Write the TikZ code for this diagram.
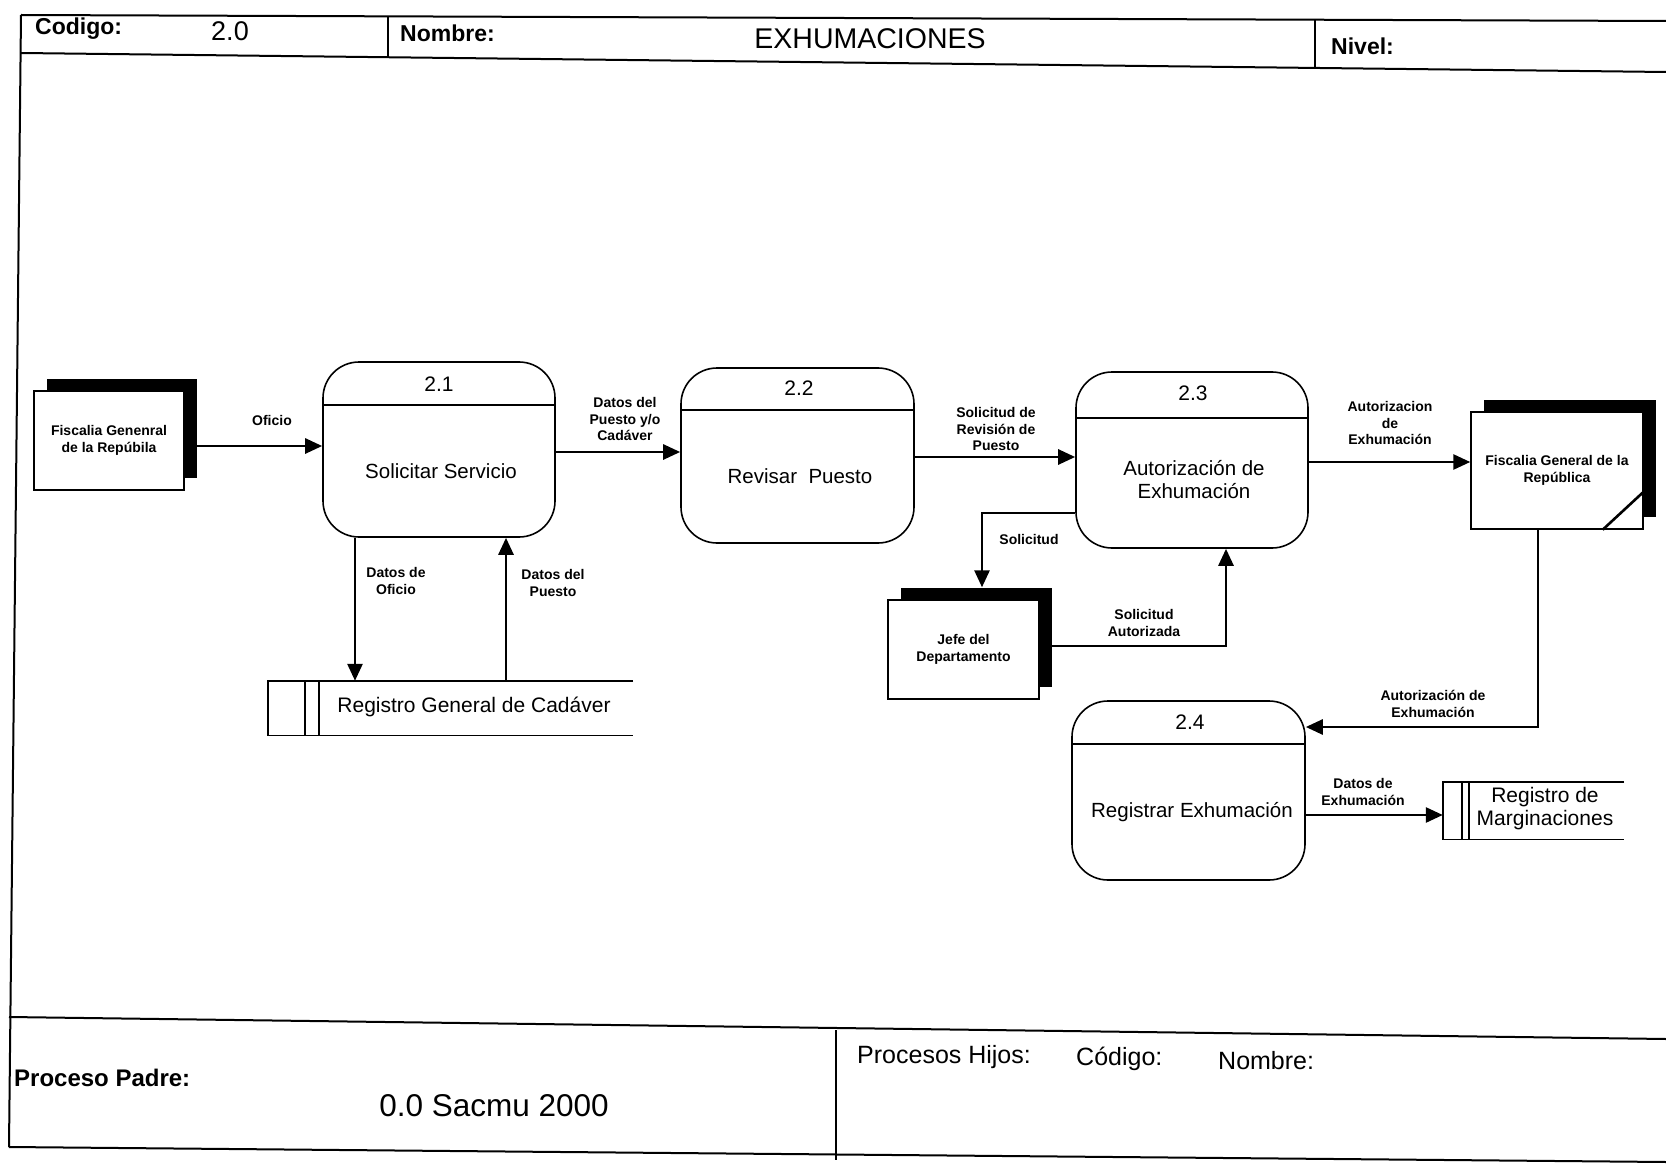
\documentclass[tikz,border=0pt]{standalone}
\usepackage{fontspec}
\setmainfont{Liberation Sans}
\usetikzlibrary{arrows.meta,shadows,calc}
\begin{document}
\begin{tikzpicture}[x=1pt,y=-1pt,
  frameline/.style={line width=2pt},
  proc/.style={draw, line width=1.6pt, rounded corners=36pt, inner sep=0pt},
  entity/.style={draw, fill=white, line width=1.4pt, inner sep=0pt, align=center,
    font=\bfseries\fontsize{14}{16.5}\selectfont,
    general shadow={fill=black, shadow xshift=13pt, shadow yshift=12pt}},
  flow/.style={line width=2.7pt, -{Triangle[length=17pt,width=15pt]}},
  lbl/.style={font=\bfseries\fontsize{14}{16.5}\selectfont, align=center, inner sep=0pt},
  ptxt/.style={font=\fontsize{20.5}{23}\selectfont, align=center, inner sep=0pt},
  pnum/.style={font=\fontsize{21}{24}\selectfont, inner sep=0pt},
  hbold/.style={font=\bfseries\fontsize{23}{26}\selectfont, anchor=west, inner sep=0pt},
  hreg/.style={font=\fontsize{25}{28}\selectfont, anchor=west, inner sep=0pt},
  storeline/.style={line width=1.4pt}]

\useasboundingbox[fill=white] (0,0) rectangle (1666,1169);

% ---- form frame ----
\draw[frameline] (21,15) -- (1666,21);
\draw[frameline] (21,15) -- (9,1147);
\draw[frameline] (21,53) -- (1666,72);
\draw[line width=1.2pt] (388,17) -- (388,56);
\draw[line width=1.2pt] (1315,20) -- (1315,67);
\draw[frameline] (9,1017) -- (1666,1039);
\draw[line width=1.2pt] (836,1030) -- (836,1160);
\draw[frameline] (9,1147) -- (1666,1162);

% ---- header ----
\node[hbold] (hcod) at (35,29) {Codigo:};
\node[font=\fontsize{27}{30}\selectfont, inner sep=0pt] (hcodv) at (230,31) {2.0};
\node[hbold] (hnom) at (400,33) {Nombre:};
\node[font=\fontsize{28.5}{32}\selectfont, inner sep=0pt] (hnomv) at (870,39) {EXHUMACIONES};
\node[hbold] (hniv) at (1331,46) {Nivel:};

% ---- footer ----
\node[hbold, font=\bfseries\fontsize{24}{27}\selectfont] (fpadre) at (14,1078) {Proceso Padre:};
\node[font=\fontsize{31.5}{36}\selectfont, inner sep=0pt] (fpadrev) at (494,1106) {0.0 Sacmu 2000};
\node[hreg] (fhijos) at (857,1057) {Procesos Hijos:};
\node[hreg] (fcod) at (1076,1059) {Código:};
\node[hreg] (fnom) at (1218,1061) {Nombre:};

% ---- processes ----
\node[proc, minimum width=232pt, minimum height=175pt] (p1) at (439,449.5) {};
\draw[line width=1.4pt] (p1.west |- 0,405) -- (p1.east |- 0,405);
\node[pnum] (p1n) at (439,384) {2.1};
\node[ptxt] (p1t) at (441,471) {Solicitar Servicio};

\node[proc, minimum width=233pt, minimum height=175pt] (p2) at (797.5,455.5) {};
\draw[line width=1.4pt] (p2.west |- 0,410) -- (p2.east |- 0,410);
\node[pnum] (p2n) at (799,388) {2.2};
\node[ptxt] (p2t) at (800,476) {Revisar\ \ Puesto};

\node[proc, minimum width=232pt, minimum height=176pt] (p3) at (1192,460) {};
\draw[line width=1.4pt] (p3.west |- 0,418) -- (p3.east |- 0,418);
\node[pnum] (p3n) at (1193,393) {2.3};
\node[ptxt] (p3t) at (1194,480) {Autorización de\\Exhumación};

\node[proc, minimum width=233pt, minimum height=179pt] (p4) at (1188.5,790.5) {};
\draw[line width=1.4pt] (p4.west |- 0,744) -- (p4.east |- 0,744);
\node[pnum] (p4n) at (1190,722) {2.4};
\node[ptxt] (p4t) at (1192,812) {Registrar Exhumación};

% ---- external entities ----
\node[entity, minimum width=150pt, minimum height=99pt] (e1) at (109,440.5)
  {Fiscalia Genenral\\de la Repúbila};
\node[entity, minimum width=172pt, minimum height=117pt] (e2) at (1557,470.5)
  {Fiscalia General de la\\República};
\draw[line width=2.6pt] ($(e2.south east)+(-41,0)$) -- ($(e2.south east)+(0,-38)$);
\node[entity, minimum width=151pt, minimum height=99pt] (e3) at (963.5,649.5)
  {Jefe del\\Departamento};
\coordinate (e3top) at ([yshift=12pt]e3.north);

% ---- data stores ----
\node[inner sep=0pt, minimum width=365pt, minimum height=54pt] (s1) at (450.5,708) {};
\draw[storeline] (s1.north east) -- (s1.north west) -- (s1.south west) -- (s1.south east);
\draw[storeline] (s1.north west) ++(37,0) -- ++(0,54);
\draw[line width=2pt] (s1.north west) ++(51,0) -- ++(0,54);
\node[font=\fontsize{21}{24}\selectfont, inner sep=0pt] (s1t) at (474,707) {Registro General de Cadáver};

\node[inner sep=0pt, minimum width=181pt, minimum height=57pt] (s2) at (1533.5,810.5) {};
\draw[storeline] (s2.north east) -- (s2.north west) -- (s2.south west) -- (s2.south east);
\draw[storeline] (s2.north west) ++(19,0) -- ++(0,57);
\draw[line width=2pt] (s2.north west) ++(26,0) -- ++(0,57);
\node[font=\fontsize{21}{23}\selectfont, align=center, inner sep=0pt] (s2t) at (1545,809) {Registro de\\Marginaciones};

% ---- data flows ----
\coordinate (h1) at (0,446);
\coordinate (h2) at (0,452);
\coordinate (h3) at (0,457);
\coordinate (h4) at (0,462);
\coordinate (h5) at (0,727);
\coordinate (h6) at (0,513);
\coordinate (h7) at (0,646);
\coordinate (h10) at (0,815);
\coordinate (v5) at (1538,0);
\coordinate (v6) at (982,0);
\coordinate (v7) at (1226,0);
\coordinate (v8) at (355,0);
\coordinate (v9) at (506,0);

\draw[flow] (e1.east |- h1) -- (p1.west |- h1);
\node[lbl] (l1) at (272,420) {Oficio};

\draw[flow] (p1.east |- h2) -- (p2.west |- h2);
\node[lbl] (l2) at (625,419) {Datos del\\Puesto y/o\\Cadáver};

\draw[flow] (p2.east |- h3) -- (p3.west |- h3);
\node[lbl] (l3) at (996,429) {Solicitud de\\Revisión de\\Puesto};

\draw[flow] (p3.east |- h4) -- (e2.west |- h4);
\node[lbl] (l4) at (1390,423) {Autorizacion\\de\\Exhumación};

\draw[flow] (v5 |- e2.south) |- (p4.east |- h5);
\node[lbl] (l5) at (1433,704) {Autorización de\\Exhumación};

\draw[flow] (p3.west |- h6) -| (v6 |- e3top);
\node[lbl] (l6) at (1029,539) {Solicitud};

\draw[flow] (e3.east |- h7) -| (v7 |- p3.south);
\node[lbl] (l7) at (1144,623) {Solicitud\\Autorizada};

\draw[flow] (v8 |- p1.south) -- (v8 |- s1.north);
\node[lbl] (l8) at (396,581) {Datos de\\Oficio};

\draw[flow] (v9 |- s1.north) -- (v9 |- p1.south);
\node[lbl] (l9) at (553,583) {Datos del\\Puesto};

\draw[flow] (p4.east |- h10) -- (s2.west |- h10);
\node[lbl] (l10) at (1363,792) {Datos de\\Exhumación};

\end{tikzpicture}
\end{document}
